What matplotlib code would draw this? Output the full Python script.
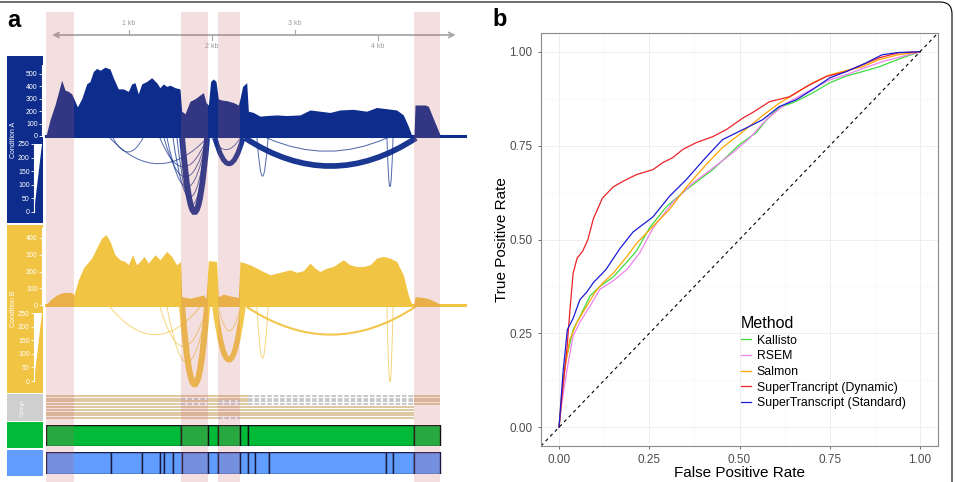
import matplotlib.pyplot as plt
from matplotlib.path import Path
from matplotlib.patches import PathPatch, FancyBboxPatch, Polygon
from matplotlib.transforms import IdentityTransform

plt.rcParams['font.family'] = ['Liberation Sans', 'DejaVu Sans']

W, H = 955, 482

# ---------------- panel a data (positions in bp) ----------------
cov_a_pos = [0, 48, 108, 149, 189, 229, 269, 309, 337, 378, 430, 490, 530, 570, 610,
             651, 711, 771, 811, 871, 932, 992, 1032, 1072, 1112, 1153, 1213, 1273, 1333,
             1373, 1414, 1454, 1494, 1554, 1614, 1635, 1675, 1735, 1795, 1855, 1896, 1928,
             1956, 1984, 2016, 2048, 2076, 2116, 2177, 2257, 2317, 2337, 2369, 2418, 2438,
             2498, 2578, 2659, 2779, 2900, 3060, 3181, 3301, 3422, 3542, 3703, 3863, 3984,
             4104, 4225, 4305, 4365, 4406, 4434, 4446, 4566, 4606, 4667, 4747, 4787, 5048]
cov_a_val = [0, 130, 250, 350, 450, 370, 360, 340, 300, 235, 300, 420, 440, 520, 545,
             530, 555, 540, 470, 380, 380, 360, 420, 430, 340, 420, 440, 470, 430,
             390, 420, 400, 410, 390, 380, 200, 180, 280, 300, 330, 350, 270,
             250, 440, 460, 440, 300, 290, 285, 270, 250, 300, 400, 430, 200,
             190, 160, 165, 170, 165, 170, 210, 200, 190, 210, 215, 200, 230,
             220, 210, 170, 80, 5, 5, 250, 250, 240, 140, 10, 5, 5]

cov_b_pos = [0, 48, 129, 209, 309, 337, 390, 450, 498, 550, 610, 671, 723, 771, 831,
             892, 952, 992, 1044, 1092, 1133, 1181, 1233, 1313, 1373, 1454, 1514, 1574,
             1622, 1635, 1735, 1815, 1896, 1928, 1956, 2056, 2076, 2137, 2217, 2317, 2337,
             2398, 2458, 2538, 2618, 2699, 2779, 2859, 2940, 3020, 3100, 3181, 3241, 3301,
             3381, 3462, 3582, 3663, 3743, 3823, 3904, 3984, 4064, 4144, 4225, 4305, 4365,
             4406, 4434, 4446, 4546, 4627, 4707, 4747, 5048]
cov_b_val = [0, 30, 60, 75, 75, 60, 150, 220, 250, 280, 340, 400, 420, 380, 300,
             270, 260, 240, 300, 240, 260, 290, 250, 300, 270, 320, 290, 240,
             260, 50, 40, 50, 60, 40, 265, 260, 50, 65, 55, 45, 260,
             250, 240, 220, 200, 180, 190, 200, 210, 195, 205, 250, 220, 200,
             220, 230, 270, 240, 230, 230, 240, 280, 290, 280, 260, 180, 60,
             5, 5, 50, 45, 35, 15, 5, 5]

# sashimi junctions: start, end, arc depth (fraction of track), read count
sash_a_start = [771, 807, 1373, 1422, 1458, 1530, 1578, 1640, 2036, 2000, 2398, 2663, 2542, 4108]
sash_a_end = [1940, 1169, 1940, 1940, 1940, 1940, 1940, 1940, 2373, 2340, 4458, 4108, 2675, 4181]
sash_a_depth = [0.33, 0.18, 0.37, 0.50, 0.63, 0.76, 0.86, 0.95, 0.33, 0.15, 0.36, 0.17, 0.49, 0.63]
sash_a_count = [8, 5, 8, 8, 8, 10, 10, 240, 200, 5, 230, 10, 8, 8]

sash_b_start = [771, 1373, 1458, 1640, 2036, 2076, 2420, 2542, 4108]
sash_b_end = [1855, 1940, 1940, 1940, 2373, 2341, 4446, 2675, 4181]
sash_b_depth = [0.35, 0.5, 0.7, 0.98, 0.67, 0.3, 0.35, 0.65, 0.96]
sash_b_count = [8, 6, 6, 250, 220, 5, 60, 6, 6]

# contig alignments, one list of aligned blocks per row
contig_rows = [
    [(0, 2437), (4437, 4747)],
    [(0, 1630), (1955, 2437), (4437, 4747)],
    [(0, 2076), (2341, 2437), (4437, 4747)],
    [(0, 1630), (1955, 2076), (2341, 2437), (4437, 4747)],
    [(0, 4437)],
    [(0, 4437)],
    [(0, 4437)],
    [(0, 4437)],
    [(0, 2076), (2341, 4437)],
]

supertranscript_blocks = [0, 1630, 1955, 2075, 2340, 2437, 4437, 4747]
annotation_blocks = [0, 783, 1151, 1373, 1422, 1527, 1635, 1955, 2076, 2341, 2437,
                     2518, 2690, 4100, 4181, 4437, 4747]
highlight_regions = [(0, 333), (1630, 1952), (2076, 2337), (4434, 4743)]
scale_ticks = [1000, 2000, 3000, 4000]

# ---------------- panel b data ----------------
methods = ['Kallisto', 'RSEM', 'Salmon', 'SuperTrancript (Dynamic)', 'SuperTranscript (Standard)']
kallisto_fpr = [0, 0.003, 0.017, 0.039, 0.058, 0.086, 0.113, 0.15, 0.188, 0.215, 0.25, 0.298, 0.353, 0.39,
                0.426, 0.464, 0.5, 0.547, 0.575, 0.61, 0.65, 0.702, 0.749, 0.795, 0.84, 0.887, 0.94, 1]
kallisto_tpr = [0, 0.03, 0.17, 0.26, 0.295, 0.35, 0.375, 0.40, 0.44, 0.47, 0.53, 0.588, 0.633, 0.66,
                0.686, 0.72, 0.753, 0.785, 0.819, 0.852, 0.865, 0.89, 0.917, 0.935, 0.947, 0.96, 0.98, 1]
rsem_fpr = [0, 0.008, 0.022, 0.039, 0.058, 0.086, 0.113, 0.15, 0.188, 0.224, 0.26, 0.316, 0.37, 0.426,
            0.48, 0.528, 0.575, 0.63, 0.7, 0.75, 0.8, 0.84, 0.9, 0.94, 1]
rsem_tpr = [0, 0.066, 0.154, 0.243, 0.28, 0.323, 0.367, 0.39, 0.42, 0.465, 0.53, 0.6, 0.65, 0.69,
            0.73, 0.77, 0.82, 0.863, 0.9, 0.925, 0.94, 0.955, 0.975, 0.985, 1]
salmon_fpr = [0, 0.008, 0.017, 0.03, 0.05, 0.077, 0.1, 0.122, 0.15, 0.188, 0.215, 0.26, 0.306, 0.353,
              0.408, 0.453, 0.5, 0.564, 0.61, 0.657, 0.702, 0.749, 0.795, 0.84, 0.887, 0.94, 1]
salmon_tpr = [0, 0.10, 0.16, 0.234, 0.28, 0.323, 0.36, 0.385, 0.41, 0.455, 0.49, 0.535, 0.58, 0.64,
              0.70, 0.745, 0.78, 0.83, 0.863, 0.89, 0.917, 0.938, 0.95, 0.96, 0.979, 0.992, 1]
dynamic_fpr = [0, 0.011, 0.022, 0.03, 0.039, 0.05, 0.066, 0.08, 0.095, 0.12, 0.15, 0.177, 0.215, 0.26,
               0.288, 0.315, 0.343, 0.38, 0.426, 0.464, 0.51, 0.536, 0.583, 0.638, 0.685, 0.74, 0.795,
               0.84, 0.887, 0.94, 1]
dynamic_tpr = [0, 0.11, 0.21, 0.31, 0.41, 0.45, 0.47, 0.5, 0.555, 0.61, 0.64, 0.655, 0.673, 0.686,
               0.705, 0.718, 0.74, 0.758, 0.774, 0.793, 0.824, 0.838, 0.867, 0.88, 0.907, 0.934, 0.947,
               0.965, 0.984, 0.997, 1]
standard_fpr = [0, 0.011, 0.023, 0.039, 0.058, 0.077, 0.095, 0.13, 0.168, 0.205, 0.26, 0.306, 0.353,
                0.408, 0.453, 0.51, 0.564, 0.61, 0.657, 0.702, 0.749, 0.795, 0.85, 0.895, 0.94, 1]
standard_tpr = [0, 0.146, 0.26, 0.29, 0.34, 0.36, 0.385, 0.42, 0.475, 0.52, 0.56, 0.615, 0.66,
                0.72, 0.766, 0.793, 0.819, 0.854, 0.872, 0.899, 0.93, 0.947, 0.97, 0.992, 0.998, 1]

roc_fpr = [kallisto_fpr, rsem_fpr, salmon_fpr, dynamic_fpr, standard_fpr]
roc_tpr = [kallisto_tpr, rsem_tpr, salmon_tpr, dynamic_tpr, standard_tpr]
roc_colors = ['#3fdc3f', 'violet', 'orange', '#ec2227', '#1c1cd6']

NAVY = '#0d2c8c'
YELLOW = '#f2c443'
GENE_LEN = (465 - 46) * 1000 / 83


fig = plt.figure(figsize=(W / 100, H / 100), dpi=100)


def px_axes(x0, y0, x1, y1):
    return fig.add_axes([x0 / W, 1 - y1 / H, (x1 - x0) / W, (y1 - y0) / H])


def label_box(x0, y0, x1, y1, color):
    ax = px_axes(x0, y0, x1, y1)
    ax.set_facecolor(color)
    ax.set_xticks([])
    ax.set_yticks([])
    for s in ax.spines.values():
        s.set_visible(False)
    return ax


def track(x0, y0, x1, y1):
    ax = px_axes(x0, y0, x1, y1)
    ax.set_facecolor('none')
    ax.set_xlim(0, GENE_LEN)
    ax.set_xticks([])
    for s in ax.spines.values():
        s.set_visible(False)
    return ax


# left label boxes
box_a = label_box(7, 56, 43, 223, NAVY)
box_b = label_box(7, 225, 43, 393, YELLOW)
box_c = label_box(7, 394, 43, 421, '#cfcfcf')
label_box(7, 422, 43, 448, '#00ba38')
label_box(7, 450, 43, 476, '#619cff')
box_a.text(0.17, 0.5, 'Condition A', rotation=90, color='white', fontsize=5,
           ha='center', va='center', transform=box_a.transAxes)
box_b.text(0.17, 0.5, 'Condition B', rotation=90, color='white', fontsize=5,
           ha='center', va='center', transform=box_b.transAxes)
box_c.text(0.42, 0.5, 'Contigs', rotation=90, color='white', fontsize=3.5,
           ha='center', va='center', transform=box_c.transAxes)

# scale bar
ax_sc = track(46, 15, 465, 55)
ax_sc.set_ylim(0, 1)
ax_sc.set_yticks([])
ax_sc.annotate('', xy=(40, 0.5), xytext=(4970, 0.5),
               arrowprops=dict(arrowstyle='<->', color='#a8a8a8', lw=1.3, mutation_scale=9))
for i, t in enumerate(scale_ticks):
    up = i % 2 == 0
    ax_sc.plot([t, t], [0.5, 0.62 if up else 0.38], color='#a8a8a8', lw=0.8)
    ax_sc.text(t, 0.7 if up else 0.3, f'{t // 1000} kb', fontsize=5, color='#9a9a9a',
               ha='center', va='bottom' if up else 'top')


def coverage(y0, y1, pos, val, color, ymax, ticks):
    ax = track(46, y0, 465, y1)
    ax.set_ylim(0, ymax)
    ax.fill_between(pos, 0, val, color=color, lw=0)
    ax.plot([0, GENE_LEN], [0, 0], color=color, lw=2.2, clip_on=False)
    ax.spines['left'].set_visible(True)
    ax.spines['left'].set_position(('outward', 3))
    ax.spines['left'].set_color('white')
    ax.spines['left'].set_bounds(0, ticks[-1] * 1.15)
    ax.set_yticks(ticks)
    ax.tick_params(axis='y', colors='white', labelsize=5, length=2, width=0.6, pad=1)
    return ax


coverage(57, 136, cov_a_pos, cov_a_val, NAVY, 79 / 0.124, [0, 100, 200, 300, 400, 500])
coverage(226, 305, cov_b_pos, cov_b_val, YELLOW, 79 / 0.1675, [0, 100, 200, 300, 400])


def sashimi(y0, y1, starts, ends, depths, counts, color):
    ax = track(46, y0, 465, y1)
    ax.set_ylim(1, 0)
    ax.set_yticks([])
    for s, e, d, c in zip(starts, ends, depths, counts):
        verts = [(s, 0), ((s + e) / 2, 2 * d), (e, 0)]
        codes = [Path.MOVETO, Path.CURVE3, Path.CURVE3]
        lw = 0.6 + c / 250 * 3.8
        ax.add_patch(PathPatch(Path(verts, codes), fill=False, edgecolor=color,
                               lw=lw, alpha=0.95 if c > 50 else 0.7, clip_on=False))
    return ax


def width_legend(y0, y1):
    ax = px_axes(34, y0, 42, y1)
    ax.set_facecolor('none')
    ax.set_xlim(0, 1)
    ax.set_ylim(0, 250)
    ax.add_patch(Polygon([(0, 0), (0, 250), (1, 250)], closed=True, color='white', lw=0))
    for k in ['top', 'right', 'bottom']:
        ax.spines[k].set_visible(False)
    ax.spines['left'].set_color('white')
    ax.set_xticks([])
    ax.set_yticks([0, 50, 100, 150, 200, 250])
    ax.tick_params(axis='y', colors='white', labelsize=5, length=2, width=0.6, pad=1)


sashimi(138, 216, sash_a_start, sash_a_end, sash_a_depth, sash_a_count, NAVY)
width_legend(144, 212)
sashimi(307, 386, sash_b_start, sash_b_end, sash_b_depth, sash_b_count, YELLOW)
width_legend(313, 381)

# contigs
ax_ct = track(46, 394, 465, 420)
ax_ct.set_ylim(len(contig_rows) - 0.4, -0.6)
ax_ct.set_yticks([])
for r, blocks in enumerate(contig_rows):
    for s, e in blocks:
        ax_ct.plot([s, e], [r, r], color='#d9b88a', lw=1.1, solid_capstyle='butt')
    for (s0, e0), (s1, e1) in zip(blocks[:-1], blocks[1:]):
        ax_ct.plot([e0, s1], [r, r], color='#b9b9b9', lw=1.1, dashes=(3, 1.2))

# SuperTranscript blocks and annotation
ax_st = track(46, 425, 465, 446)
ax_st.set_ylim(0, 1)
ax_st.set_yticks([])
ax_st.broken_barh([(s, e - s) for s, e in zip(supertranscript_blocks[:-1], supertranscript_blocks[1:])],
                  (0, 1), facecolors='#00ba38', edgecolors='#111111', linewidth=1)
ax_an = track(46, 452, 465, 474)
ax_an.set_ylim(0, 1)
ax_an.set_yticks([])
ax_an.broken_barh([(s, e - s) for s, e in zip(annotation_blocks[:-1], annotation_blocks[1:])],
                  (0, 1), facecolors='#619cff', edgecolors='#1a1a40', linewidth=1)

# highlighted regions on top
ax_hl = track(46, 12, 465, 482)
ax_hl.axis('off')
ax_hl.set_xlim(0, GENE_LEN)
for s, e in highlight_regions:
    ax_hl.axvspan(s, e, color=(0.78, 0.39, 0.39), alpha=0.2, lw=0)

fig.text(7 / W, 1 - 27 / H, 'a', fontsize=17, fontweight='bold', va='baseline')

# ---------------- panel b ----------------
ax = px_axes(541, 33, 938, 446)
for f, t, c, m in zip(roc_fpr, roc_tpr, roc_colors, methods):
    ax.plot(f, t, color=c, lw=0.9, label=m)
ax.plot([-0.05, 1.05], [-0.05, 1.05], color='black', lw=0.8, dashes=(3, 3))
ax.set_xlim(-0.05, 1.05)
ax.set_ylim(-0.05, 1.05)
ticks = [0, 0.25, 0.5, 0.75, 1.0]
ax.set_xticks(ticks)
ax.set_yticks(ticks)
ax.set_xticklabels([f'{t:.2f}' for t in ticks])
ax.set_yticklabels([f'{t:.2f}' for t in ticks])
ax.set_xticks([0.125, 0.375, 0.625, 0.875], minor=True)
ax.set_yticks([0.125, 0.375, 0.625, 0.875], minor=True)
ax.grid(True, which='major', color='#ebebeb', lw=0.6)
ax.grid(True, which='minor', color='#f4f4f4', lw=0.4)
ax.set_axisbelow(True)
ax.tick_params(which='major', labelsize=8.5, labelcolor='#4d4d4d', color='#333333', length=2.5, width=0.5)
ax.tick_params(which='minor', length=0)
for s in ax.spines.values():
    s.set_color('#8a8a8a')
    s.set_linewidth(0.8)
ax.set_xlabel('False Positive Rate', fontsize=11, labelpad=0)
ax.set_ylabel('True Positive Rate', fontsize=11, labelpad=0.5)
leg = ax.legend(loc='upper left', bbox_to_anchor=(741 / W, 1 - 316 / H), bbox_transform=fig.transFigure,
                frameon=False, fontsize=8.8, title='Method', title_fontsize=11.5, alignment='left',
                handlelength=0.85, handletextpad=0.45, labelspacing=0.3, borderpad=0, borderaxespad=0)

fig.text(492 / W, 1 - 26 / H, 'b', fontsize=17, fontweight='bold', va='baseline')

fig.add_artist(FancyBboxPatch((-30, -30), 982, 510, boxstyle='round,pad=0,rounding_size=12',
                              transform=IdentityTransform(), facecolor='none', edgecolor='black', lw=0.8))

fig.savefig('out.png', dpi=100)
